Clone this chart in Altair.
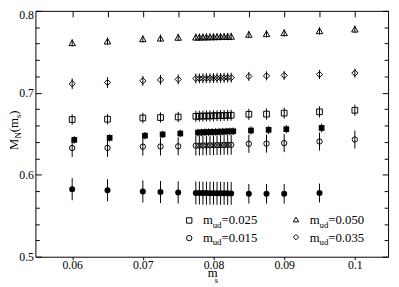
import altair as alt
import pandas as pd

# ---------------- data ----------------
x_main = [0.06, 0.065, 0.07, 0.0725, 0.075,
          0.0775, 0.078, 0.0785, 0.079, 0.0795, 0.08, 0.0805, 0.081, 0.0815, 0.082, 0.0825,
          0.085, 0.0875, 0.09, 0.095, 0.1]
x_fsq = [0.0603, 0.0653, 0.0703, 0.0728, 0.0753,
         0.0778, 0.0783, 0.0788, 0.0793, 0.0798, 0.0803, 0.0808, 0.0813, 0.0818, 0.0823, 0.0828,
         0.0853, 0.0878, 0.0903, 0.0953]
x_fci = [0.06, 0.065, 0.07, 0.0725, 0.075,
         0.0775, 0.078, 0.0785, 0.079, 0.0795, 0.08, 0.0805, 0.081, 0.0815, 0.082, 0.0825,
         0.085, 0.0875, 0.09, 0.095]

# m_ud = 0.050 (open triangles)
tri_y = [0.7610, 0.7630, 0.7658, 0.7666, 0.7676,
         0.7678, 0.7679, 0.7680, 0.7681, 0.7682, 0.7683, 0.7684, 0.7685, 0.7686, 0.7687, 0.7688,
         0.7712, 0.7720, 0.7732, 0.7756, 0.7776]
tri_e = [0.0045, 0.0045, 0.0045, 0.0045, 0.0045,
         0.0045, 0.0045, 0.0045, 0.0045, 0.0045, 0.0045, 0.0045, 0.0045, 0.0045, 0.0045, 0.0045,
         0.0045, 0.0045, 0.0045, 0.0045, 0.0045]
# m_ud = 0.035 (open diamonds)
dia_y = [0.7111, 0.7126, 0.7146, 0.7158, 0.7164,
         0.7175, 0.7176, 0.7177, 0.7178, 0.7179, 0.7180, 0.7181, 0.7182, 0.7183, 0.7184, 0.7185,
         0.7200, 0.7207, 0.7213, 0.7224, 0.7241]
dia_e = [0.0065, 0.0065, 0.006, 0.006, 0.006,
         0.006, 0.006, 0.006, 0.006, 0.006, 0.006, 0.006, 0.006, 0.006, 0.006, 0.006,
         0.0055, 0.0055, 0.0055, 0.0055, 0.0055]
# m_ud = 0.025 (open squares)
osq_y = [0.6674, 0.6678, 0.6693, 0.6698, 0.6705,
         0.6713, 0.6715, 0.6716, 0.6717, 0.6718, 0.6720, 0.6721, 0.6722, 0.6723, 0.6725, 0.6727,
         0.6738, 0.6740, 0.6752, 0.6768, 0.6787]
osq_e = [0.0063, 0.0063, 0.0063, 0.0063, 0.0063,
         0.0067, 0.0067, 0.0067, 0.0067, 0.0067, 0.0067, 0.0067, 0.0067, 0.0067, 0.0067, 0.0067,
         0.0068, 0.0068, 0.0068, 0.0068, 0.0068]
# filled squares
fsq_y = [0.6426, 0.6450, 0.6477, 0.6492, 0.6504,
         0.6515, 0.6517, 0.6519, 0.6520, 0.6522, 0.6523, 0.6525, 0.6526, 0.6528, 0.6529, 0.6531,
         0.6540, 0.6548, 0.6556, 0.6571]
fsq_e = [0.0045, 0.0045, 0.0045, 0.0045, 0.0045,
         0.0045, 0.0045, 0.0045, 0.0045, 0.0045, 0.0045, 0.0045, 0.0045, 0.0045, 0.0045, 0.0045,
         0.005, 0.005, 0.005, 0.0053]
# m_ud = 0.015 (open circles)
oci_y = [0.6327, 0.6328, 0.6343, 0.6345, 0.6347,
         0.6355, 0.6356, 0.6357, 0.6358, 0.6359, 0.6360, 0.6361, 0.6362, 0.6363, 0.6364, 0.6365,
         0.6378, 0.6380, 0.6386, 0.6406, 0.6430]
oci_e = [0.011, 0.011, 0.011, 0.011, 0.011,
         0.012, 0.012, 0.012, 0.012, 0.012, 0.012, 0.012, 0.012, 0.012, 0.012, 0.012,
         0.011, 0.011, 0.011, 0.011, 0.011]
# filled circles
fci_y = [0.5824, 0.5812, 0.5796, 0.5789, 0.5784,
         0.5778, 0.5777, 0.5776, 0.5776, 0.5775, 0.5775, 0.5774, 0.5774, 0.5773, 0.5773, 0.5772,
         0.5768, 0.5768, 0.5768, 0.5777]
fci_e = [0.0135, 0.0135, 0.0135, 0.0135, 0.0135,
         0.014, 0.014, 0.014, 0.014, 0.014, 0.014, 0.014, 0.014, 0.014, 0.014, 0.014,
         0.012, 0.012, 0.012, 0.0115]

x_ticks = [0.06, 0.07, 0.08, 0.09, 0.1]
x_minor = [0.06, 0.065, 0.07, 0.075, 0.08, 0.085, 0.09, 0.095, 0.1]
y_ticks = [0.5, 0.6, 0.7, 0.8]
y_ticks_low = [0.5, 0.6, 0.7]
y_ticks_top = [0.8]
y_minor = [0.52, 0.54, 0.56, 0.58, 0.62, 0.64, 0.66, 0.68, 0.72, 0.74, 0.76, 0.78]

legend_labels = ["=0.025", "=0.015", "=0.050", "=0.035"]

FONT = "'Liberation Serif', 'Times New Roman', Times, 'DejaVu Serif', serif"
INK = "#000000"


def frame(xs, ys, es):
    return pd.DataFrame({"x": xs, "y": ys, "lo": [a - b for a, b in zip(ys, es)],
                         "hi": [a + b for a, b in zip(ys, es)]})


series = [
    (frame(x_main, tri_y, tri_e), "triangle-up", False, 44),
    (frame(x_main, dia_y, dia_e), "diamond", False, 40),
    (frame(x_main, osq_y, osq_e), "square", False, 34),
    (frame(x_fsq, fsq_y, fsq_e), "square", True, 34),
    (frame(x_main, oci_y, oci_e), "circle", False, 30),
    (frame(x_fci, fci_y, fci_e), "circle", True, 38),
]

xscale = alt.Scale(domain=[0.0548, 0.1047], nice=False, zero=False)
yscale = alt.Scale(domain=[0.5, 0.8], nice=False, zero=False)

layers = []
for df, shape, filled, size in series:
    layers.append(
        alt.Chart(df).mark_rule(color=INK, strokeWidth=1).encode(
            x=alt.X("x:Q", scale=xscale, axis=None),
            y=alt.Y("lo:Q", scale=yscale, axis=None),
            y2="hi:Q")
    )
    layers.append(
        alt.Chart(df).mark_point(shape=shape, filled=filled, size=size,
                                 color=INK, strokeWidth=1, opacity=1,
                                 fillOpacity=1 if filled else 0).encode(
            x=alt.X("x:Q", scale=xscale, axis=None),
            y=alt.Y("y:Q", scale=yscale, axis=None))
    )

base_df = series[0][0]


def axis_layer(xaxis, yaxis):
    return alt.Chart(base_df).mark_point(opacity=0).encode(
        x=alt.X("x:Q", scale=xscale, axis=xaxis),
        y=alt.Y("y:Q", scale=yscale, axis=yaxis))


common = dict(grid=False, domain=False, title=None, tickColor=INK, labelColor=INK,
              labelFont=FONT, labelFontSize=12)

layers.append(axis_layer(
    alt.Axis(orient="bottom", values=x_ticks, tickSize=3, labelPadding=0, format="~g", **common),
    alt.Axis(orient="left", values=y_ticks_low, tickSize=6, offset=-6, labelPadding=2, format=".1f", **common)))
layers.append(axis_layer(
    alt.Axis(orient="top", values=x_minor, tickSize=6, offset=-6, labels=False, **common),
    alt.Axis(orient="left", values=y_minor, tickSize=4, offset=-4, labels=False, **common)))
layers.append(axis_layer(
    None,
    alt.Axis(orient="left", values=y_ticks_top, tickSize=6, offset=-6, labelPadding=2,
             labelBaseline="top", labelOffset=-1, format=".1f", **common)))
layers.append(axis_layer(
    None,
    alt.Axis(orient="right", values=y_ticks, tickSize=6, offset=-6, labels=False, **common)))
layers.append(axis_layer(
    None,
    alt.Axis(orient="right", values=y_minor, tickSize=4, offset=-4, labels=False, **common)))

one = pd.DataFrame({"k": [0]})


def txt(s, x, y, size=13, angle=0):
    kw = dict(text=s, font=FONT, fontSize=size, align="left", baseline="alphabetic", color=INK)
    if angle:
        kw["angle"] = angle
    return alt.Chart(one).mark_text(**kw).encode(x=alt.value(x), y=alt.value(y))


def sym(shape, x, y, size):
    return alt.Chart(one).mark_point(shape=shape, filled=False, size=size, color=INK,
                                     strokeWidth=1, opacity=1).encode(
        x=alt.value(x), y=alt.value(y))


# y-axis title  M_N(m_s)  (rotated)
layers += [
    txt("M", -18, 142, 13, 270),
    txt("N", -15, 130.4, 9, 270),
    txt("(m", -18, 123.9, 13, 270),
    txt("s", -15, 109.5, 9, 270),
    txt(")", -18, 106, 13, 270),
]
# x-axis title m_s
layers += [txt("m", 176, 272, 13), txt("s", 183, 278, 9)]

# legend (2 x 2)
leg = [("square", 157, 214, 0), ("circle", 157, 232, 1), ("triangle-up", 266, 213, 2), ("diamond", 266, 231, 3)]
for shape, sx, sy, i in leg:
    base = 218 if i in (0, 2) else 235.5
    tx = 171 if i < 2 else 280
    layers += [
        sym(shape, sx, sy, 30),
        txt("m", tx, base, 13),
        txt("ud", tx + 10, base + 4, 9),
        txt(legend_labels[i], tx + 19, base, 13),
    ]

chart = alt.layer(*layers).resolve_axis(x="independent", y="independent").properties(
    width=360, height=251,
    padding={"left": 28, "top": 0, "right": 3, "bottom": 28},
    autosize=alt.AutoSizeParams(type="none"),
).configure_view(stroke=INK, strokeWidth=1)

chart.save("out.html", embed_options={"renderer": "svg", "actions": False})
